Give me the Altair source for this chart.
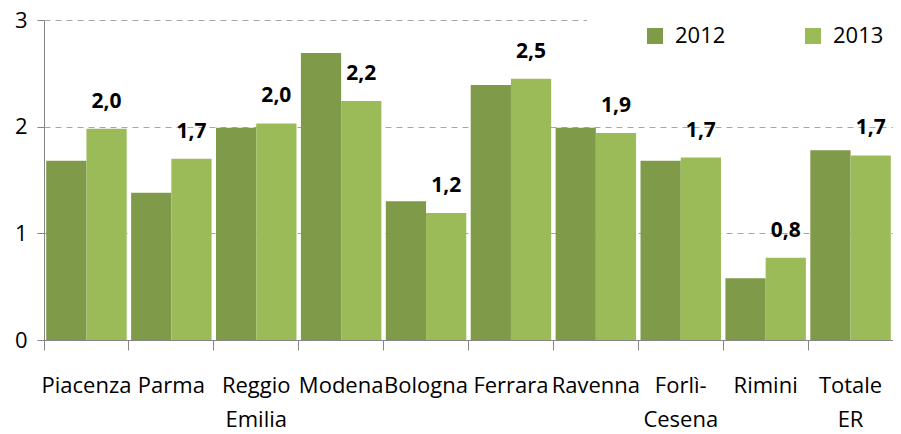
import altair as alt
import pandas as pd

categories = ["Piacenza", "Parma", "Reggio|Emilia", "Modena", "Bologna",
              "Ferrara", "Ravenna", "Forlì-|Cesena", "Rimini", "Totale|ER"]
years = ["2012", "2013"]
v2012 = [1.68, 1.38, 1.99, 2.69, 1.30, 2.39, 1.99, 1.68, 0.58, 1.78]
v2013 = [1.98, 1.70, 2.03, 2.24, 1.19, 2.45, 1.94, 1.71, 0.77, 1.73]
labels2013 = ["2,0", "1,7", "2,0", "2,2", "1,2", "2,5", "1,9", "1,7", "0,8", "1,7"]
colors = ["#7F9A48", "#9BBB59"]
y_ticks = [0, 1, 2, 3]

FONT = "Open Sans"

rows = []
for c, a, b in zip(categories, v2012, v2013):
    rows.append({"cat": c, "year": years[0], "value": a})
    rows.append({"cat": c, "year": years[1], "value": b})
df = pd.DataFrame(rows)
df_lab = pd.DataFrame({"cat": categories, "year": [years[1]] * len(categories),
                       "value": v2013, "label": labels2013})

x_enc = alt.X(
    "cat:N", sort=categories, title=None,
    scale=alt.Scale(paddingInner=0, paddingOuter=0),
    axis=alt.Axis(
        labelAngle=0, labelExpr="split(datum.label, '|')", labelLineHeight=34,
        labelFont=FONT, labelFontSize=22, labelColor="#000000",
        labelPadding=25, tickSize=10, tickColor="#868686", bandPosition=0,
        domainColor="#868686", grid=False, labelBaseline="top",
    ),
)
xoff = alt.XOffset("year:N", sort=years, scale=alt.Scale(paddingOuter=0.055))
y_enc = alt.Y(
    "value:Q", title=None,
    scale=alt.Scale(domain=[0, 3], nice=False),
    axis=alt.Axis(
        values=y_ticks, format="d", labelFont=FONT, labelFontSize=22,
        labelColor="#000000", labelPadding=10, tickSize=7, tickColor="#868686",
        domainColor="#868686", gridColor="#A6A6A6", gridDash=[6, 5], gridWidth=1,
    ),
)

bars = alt.Chart(df).mark_bar().encode(
    x=x_enc,
    xOffset=xoff,
    y=y_enc,
    color=alt.Color(
        "year:N",
        scale=alt.Scale(domain=years, range=colors),
        legend=alt.Legend(
            orient="none", legendX=543, legendY=-5, direction="horizontal",
            title=" ", titleOrient="left", titlePadding=47, titleColor="white",
            fillColor="white", padding=10, symbolType="square", symbolSize=256,
            symbolStrokeWidth=0, labelFont=FONT, labelFontSize=22,
            labelColor="#000000", labelOffset=9, columnPadding=76,
        ),
    ),
)

text = alt.Chart(df_lab).mark_text(
    font=FONT, fontSize=21, fontWeight="bold", color="#000000",
    baseline="alphabetic", dy=-21,
).encode(x=x_enc, xOffset=xoff, y=y_enc, text="label:N")

chart = alt.layer(bars, text).properties(
    width=849, height=320,
    padding={"left": 36, "top": 12, "right": 0, "bottom": 94},
    autosize=alt.AutoSizeParams(type="none"),
).configure_view(stroke=None)

chart.save("out.html", embed_options={"renderer": "svg", "actions": False})
